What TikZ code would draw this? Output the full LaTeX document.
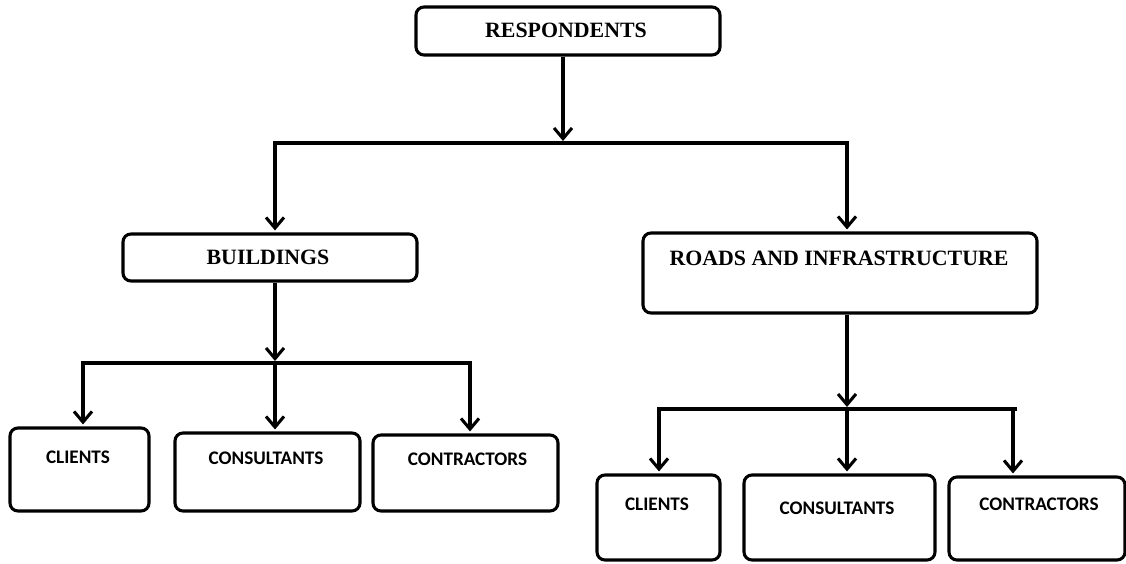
\documentclass[tikz,border=0pt]{standalone}
\usepackage{fontspec}
\setmainfont{Liberation Serif}
\newfontfamily\calib{Carlito}
\usetikzlibrary{arrows.meta}
\tikzset{
  box/.style={draw, line width=2.3pt, rounded corners=6pt, inner sep=0pt},
  toptext/.style={font=\fontsize{16.4}{18}\selectfont\bfseries, inner sep=0pt},
  lowtext/.style={font=\calib\fontsize{14.4}{16}\selectfont\bfseries, inner sep=0pt},
  conn/.style={line width=2.3pt},
  arr/.style={line width=2.3pt, -{Straight Barb[length=8pt,width=13.5pt]}, shorten >=1.5pt}
}
\begin{document}
\begin{tikzpicture}[x=0.75pt,y=-0.75pt]
\useasboundingbox (0,0) rectangle (1126,563);
% boxes
\node[box, minimum width=304*0.75pt, minimum height=48*0.75pt] (resp) at (568,31) {};
\node[box, minimum width=294*0.75pt, minimum height=47*0.75pt] (build) at (270,257.5) {};
\node[box, minimum width=394*0.75pt, minimum height=80*0.75pt] (roads) at (840,273) {};
\node[box, minimum width=139*0.75pt, minimum height=83*0.75pt] (bc1) at (79.5,469.5) {};
\node[box, minimum width=185*0.75pt, minimum height=78*0.75pt] (bc2) at (267.5,472) {};
\node[box, minimum width=185*0.75pt, minimum height=76*0.75pt] (bc3) at (465.5,473) {};
\node[box, minimum width=123*0.75pt, minimum height=85*0.75pt] (rc1) at (658.5,517.5) {};
\node[box, minimum width=191*0.75pt, minimum height=85*0.75pt] (rc2) at (839.5,517.5) {};
\node[box, minimum width=176*0.75pt, minimum height=83*0.75pt] (rc3) at (1037,518.5) {};
% texts
\node[toptext] (tresp) at (566,30) {RESPONDENTS};
\node[toptext] (tbuild) at (268,257) {BUILDINGS};
\node[toptext] (troads) at (839,258) {ROADS AND INFRASTRUCTURE};
\node[lowtext] (tbc1) at (78,457) {CLIENTS};
\node[lowtext] (tbc2) at (266,458) {CONSULTANTS};
\node[lowtext] (tbc3) at (467.5,459) {CONTRACTORS};
\node[lowtext] (trc1) at (657,504) {CLIENTS};
\node[lowtext] (trc2) at (837,508) {CONSULTANTS};
\node[lowtext] (trc3) at (1039,504) {CONTRACTORS};
% junction coordinates
\coordinate (j1) at (563,143);
\coordinate (a1) at (275,143);
\coordinate (a2) at (847,143);
\coordinate (j2) at (275,363);
\coordinate (b1) at (83,363);
\coordinate (b3) at (470,363);
\coordinate (j3) at (847,409);
\coordinate (r1) at (659,409);
\coordinate (r3) at (1013,409);
\coordinate (r3e) at (1017,409);
% level 1
\draw[arr] (j1 |- resp.south) -- (j1);
\draw[arr] (j1) -- (a1) -- (a1 |- build.north);
\draw[arr] (j1) -- (a2) -- (a2 |- roads.north);
% buildings
\draw[arr] (j2 |- build.south) -- (j2);
\draw[arr] (j2) -- (b1) -- (b1 |- bc1.north);
\draw[arr] (j2) -- (j2 |- bc2.north);
\draw[arr] (j2) -- (b3) -- (b3 |- bc3.north);
% roads
\draw[arr] (j3 |- roads.south) -- (j3);
\draw[arr] (j3) -- (r1) -- (r1 |- rc1.north);
\draw[arr] (j3) -- (j3 |- rc2.north);
\draw[conn] (j3) -- (r3e);
\draw[arr] (r3) -- (r3 |- rc3.north);
\end{tikzpicture}
\end{document}
